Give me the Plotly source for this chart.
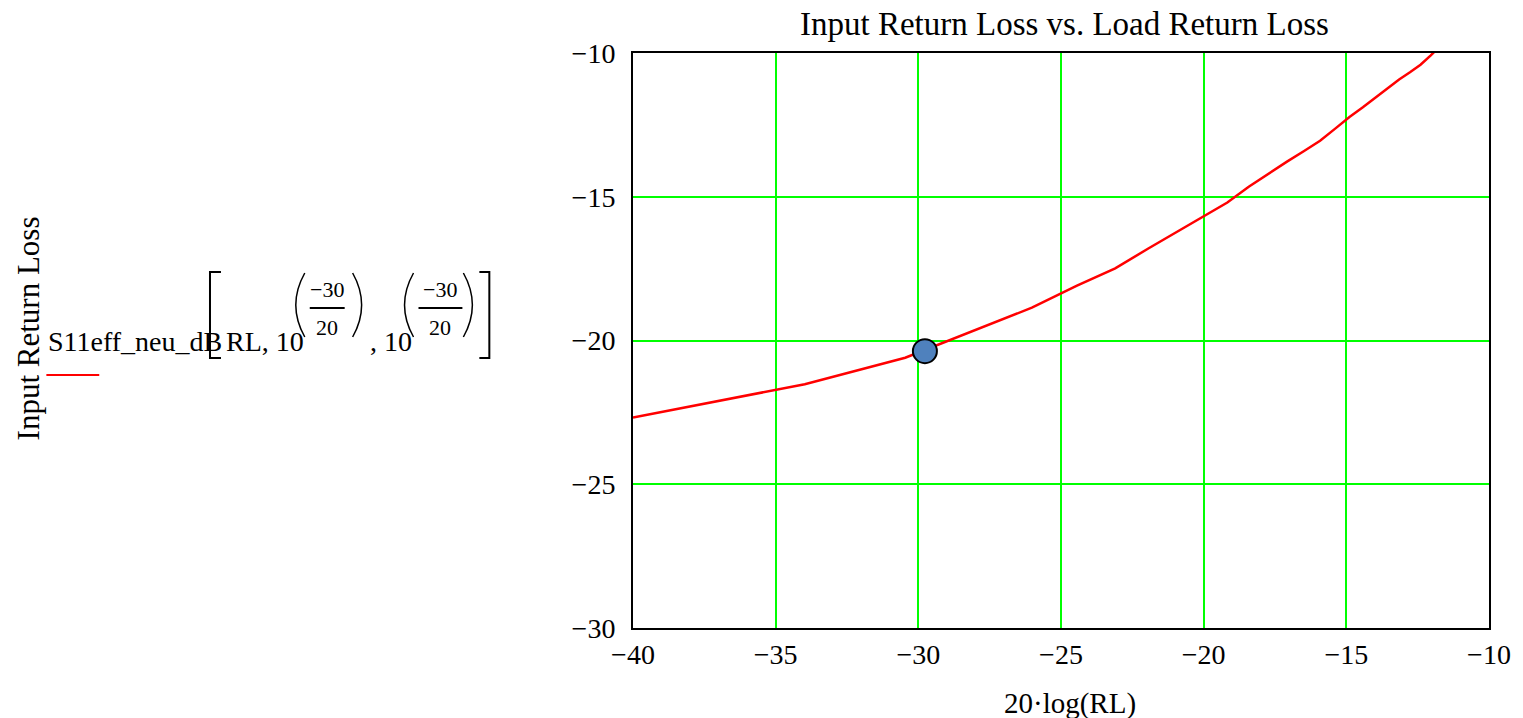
import plotly.graph_objects as go

# Load return loss (dB) and resulting input return loss (dB)
load_rl_db = [-40.0, -33.98, -30.46, -27.96, -26.02, -24.44, -23.10, -21.94,
              -20.92, -20.0, -19.17, -18.42, -17.72, -17.08, -16.48, -15.92,
              -15.39, -14.89, -14.42, -13.98, -13.56, -13.15, -12.77, -12.40,
              -12.04, -11.70]
input_rl_db = [-22.68, -21.52, -20.60, -19.63, -18.86, -18.09, -17.49, -16.80,
               -16.20, -15.67, -15.20, -14.65, -14.19, -13.78, -13.41, -13.05,
               -12.63, -12.23, -11.89, -11.55, -11.23, -10.92, -10.67, -10.41,
               -10.08, -9.75]

# Operating point
op_x = [-29.77]
op_y = [-20.37]

x_ticks = [-40, -35, -30, -25, -20, -15, -10]
y_ticks = [-30, -25, -20, -15, -10]

FONT = "Liberation Serif"
W_PX, H_PX = 1523, 718
L, R, T, B = 633, 1491, 53, 628


def px(x):
    return (x - L) / (R - L)


def py(y):
    return (B - y) / (B - T)


fig = go.Figure()
fig.add_trace(go.Scatter(x=load_rl_db, y=input_rl_db, mode="lines",
                         line=dict(color="#ff0000", width=2.5), showlegend=False))
fig.add_trace(go.Scatter(x=op_x, y=op_y, mode="markers",
                         marker=dict(size=24, color="#4f81bd",
                                     line=dict(color="#000000", width=2)),
                         showlegend=False))

ann = []


def text(t, x, y, size, xanchor="left", angle=0):
    ann.append(dict(text=t, x=px(x), y=py(y), xref="paper", yref="paper",
                    xanchor=xanchor, yanchor="middle", showarrow=False,
                    textangle=angle, font=dict(family=FONT, size=size, color="black")))


text("Input Return Loss vs. Load Return Loss", 1066, 24, 33, "center")
text("20·log(RL)", 1071, 703, 29, "center")
text("Input Return Loss", 27, 328, 31, "center", angle=-90)

# Legend expression
text("S11eff_neu_dB", 45, 341, 28)
text("RL, 10", 223, 341, 28)
text("\u221230", 326, 289, 22, "center")
text("20", 326, 327, 22, "center")
text(", 10", 367, 341, 28)
text("\u221230", 440, 289, 22, "center")
text("20", 440, 327, 22, "center")

shapes = []


def path(d_pts, color="black", width=2):
    shapes.append(dict(type="path", xref="paper", yref="paper", path=d_pts,
                       line=dict(color=color, width=width)))


def P(x, y):
    return f"{px(x):.5f},{py(y):.5f}"


# brackets
path(f"M {P(220,272)} L {P(209,272)} L {P(209,358)} L {P(220,358)}")
path(f"M {P(479,272)} L {P(489,272)} L {P(489,358)} L {P(479,358)}")
# parentheses
path(f"M {P(304,273)} Q {P(286,305)} {P(304,337)}", width=1.5)
path(f"M {P(352,273)} Q {P(370,305)} {P(352,337)}", width=1.5)
path(f"M {P(413,273)} Q {P(395,305)} {P(413,337)}", width=1.5)
path(f"M {P(463,273)} Q {P(481,305)} {P(463,337)}", width=1.5)
# fraction bars
path(f"M {P(309,308)} L {P(344,308)}")
path(f"M {P(418,308)} L {P(462,308)}")
# legend line sample
path(f"M {P(45,375)} L {P(98,375)}", color="#ff0000")

axis_common = dict(showgrid=True, gridcolor="#00ff00", gridwidth=2,
                   zeroline=False, showline=True, linecolor="black",
                   linewidth=2, mirror=True, ticks="",
                   tickfont=dict(family=FONT, size=28, color="black"))

fig.update_layout(
    width=W_PX, height=H_PX,
    margin=dict(l=L, r=W_PX - R, t=T, b=H_PX - B),
    paper_bgcolor="white", plot_bgcolor="white",
    xaxis=dict(range=[-40, -10], tickvals=x_ticks, ticklabelstandoff=0,
               **axis_common),
    yaxis=dict(range=[-30, -10], tickvals=y_ticks, ticklabelstandoff=10,
               **axis_common),
    annotations=ann, shapes=shapes,
)

fig.write_html("out.html")
